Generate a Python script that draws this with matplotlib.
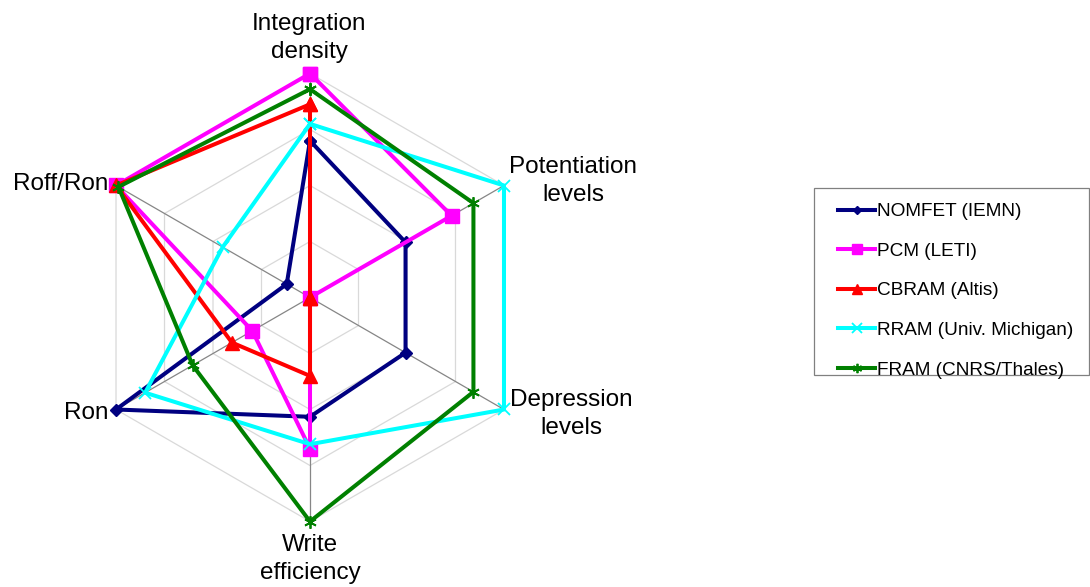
import numpy as np
import matplotlib
matplotlib.use("Agg")
import matplotlib.pyplot as plt
from matplotlib.patches import Rectangle

plt.rcParams['font.family'] = ['Liberation Sans', 'DejaVu Sans']

# ---------------- data ----------------
categories = ['Integration\ndensity', 'Potentiation\nlevels', 'Depression\nlevels',
              'Write\nefficiency', 'Ron', 'Roff/Ron']
series_names = ['NOMFET (IEMN)', 'PCM (LETI)', 'CBRAM (Altis)',
                'RRAM (Univ. Michigan)', 'FRAM (CNRS/Thales)']
nomfet = [2.80, 1.97, 1.97, 2.13, 4.00, 0.48]
pcm = [4.00, 2.92, 0.00, 2.70, 1.19, 4.00]
cbram = [3.45, 0.00, 0.00, 1.40, 1.61, 4.00]
rram = [3.10, 4.00, 4.00, 2.62, 3.40, 1.80]
fram = [3.72, 3.37, 3.37, 4.00, 2.42, 3.95]
grid_levels = [1, 2, 3, 4]
r_max = 4

# ---------------- styles ----------------
colors = ['#000080', '#FF00FF', '#FF0000', '#00FFFF', '#008000']
markers = ['D', 's', '^', 'x', (6, 2, 0)]
msizes = [6, 9.5, 9.5, 9, 9]
mews = [1, 1, 1, 1.3, 1.3]

W, H = 1090, 587
fig = plt.figure(figsize=(W / 100, H / 100), dpi=100)

cx, cy, R = 310, 297.5, 224
ax = fig.add_axes([(cx - R) / W, (H - cy - R) / H, 2 * R / W, 2 * R / H],
                  projection='polar')
ax.set_theta_offset(np.pi / 2)
ax.set_theta_direction(-1)
ax.set_ylim(0, r_max)
ax.grid(False)
ax.spines['polar'].set_visible(False)
ax.set_xticks([])
ax.set_yticks([])
ax.patch.set_visible(False)

n = len(categories)
theta = np.arange(n) * 2 * np.pi / n
theta_closed = np.append(theta, theta[0])

# hexagonal gridlines
for lvl in grid_levels:
    ax.plot(theta_closed, [lvl] * (n + 1), color='#D9D9D9', lw=0.9, zorder=1,
            clip_on=False)
# spokes
for t in theta:
    ax.plot([t, t], [0, r_max], color='#868686', lw=0.9, zorder=1.5, clip_on=False)

data = [nomfet, pcm, cbram, rram, fram]
handles = []
for vals, c, m, ms, mew, name in zip(data, colors, markers, msizes, mews, series_names):
    v = np.append(vals, vals[0])
    h, = ax.plot(theta_closed, v, color=c, lw=2.9, marker=m, markersize=ms,
                 markerfacecolor=c, markeredgecolor=c, markeredgewidth=mew,
                 zorder=3, clip_on=False, label=name)
    handles.append(h)

# category labels
def ftxt(x, y, s, **kw):
    fig.text(x / W, 1 - y / H, s, fontsize=17.5, color='black', **kw)

ls = 1.33
ftxt(309, 38, categories[0], ha='center', va='center', linespacing=ls)
ftxt(573, 181, categories[1], ha='center', va='center', linespacing=ls)
ftxt(571, 414, categories[2], ha='center', va='center', linespacing=ls)
ftxt(310, 559, categories[3], ha='center', va='center', linespacing=ls)
ftxt(108, 413, categories[4], ha='right', va='center')
ftxt(108, 184, categories[5], ha='right', va='center')

# legend
fig.patches.append(Rectangle((814 / W, 1 - 375 / H), (1089 - 814) / W, (375 - 188) / H,
                             transform=fig.transFigure, fill=False,
                             edgecolor='#808080', lw=0.9))
leg = fig.legend(handles=handles, loc='upper left',
                 bbox_to_anchor=(838 / W, 1 - 203 / H), frameon=False,
                 fontsize=13.7, handlelength=1.95, handletextpad=0.1,
                 labelspacing=1.17, borderpad=0, borderaxespad=0,
                 markerscale=0.75)

fig.savefig('out.png', dpi=100)
